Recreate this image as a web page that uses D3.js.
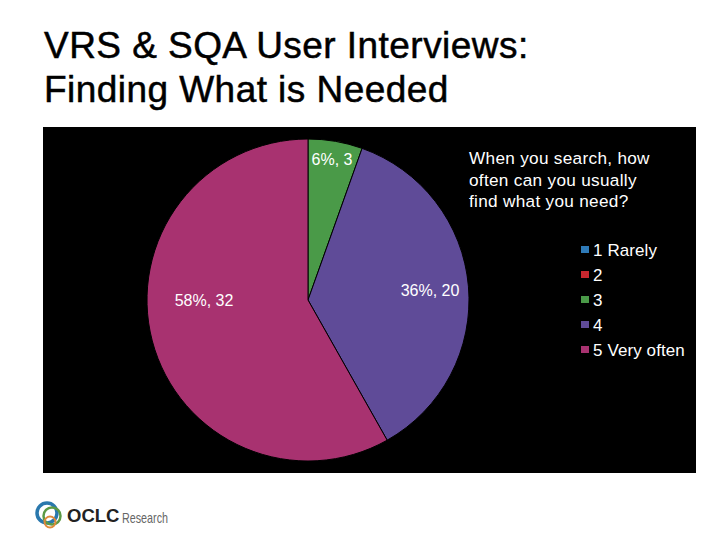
<!DOCTYPE html>
<html><head><meta charset="utf-8">
<script src="https://cdn.jsdelivr.net/npm/d3@7/dist/d3.min.js"></script>
<style>html,body{margin:0;padding:0;background:#fff}svg{display:block}text{font-family:"Liberation Sans",Arial,sans-serif}</style>
</head><body><svg id="c" width="720" height="540"></svg>
<script>
const titleLines = ["VRS & SQA User Interviews:", "Finding What is Needed"];
const categories = ["1 Rarely", "2", "3", "4", "5 Very often"];
const values = [0, 0, 3, 20, 32];
const percents = ["0%", "0%", "6%", "36%", "58%"];
const colors = ["#2e7ab8", "#c8272f", "#4a9a48", "#5f4b98", "#a83270"];
const questionLines = ["When you search, how", "often can you usually", "find what you need?"];

const svg = d3.select("#c");
svg.selectAll("text.title").data(titleLines).join("text").attr("class","title")
  .attr("x",44).attr("y",(d,i)=>58+i*44).attr("font-size",37).attr("letter-spacing",0.45)
  .attr("fill","#000").attr("stroke","#000").attr("stroke-width",0.5).text(d=>d);
svg.append("rect").attr("x",43).attr("y",127).attr("width",653).attr("height",346).attr("fill","#000");

const R = 161;
const g = svg.append("g").attr("transform","translate(308,300)");
const pie = d3.pie().sort(null).value(d=>d)(values);
const arc = d3.arc().innerRadius(0).outerRadius(R);
g.selectAll("path").data(pie.filter(d=>d.value>0)).join("path")
  .attr("d",arc).attr("fill",d=>colors[d.index]).attr("stroke","#000").attr("stroke-width",1);

const labelPos = {2:[332,165],3:[430,296],4:[204,306]};
svg.selectAll("text.lab").data(pie.filter(d=>d.value>0)).join("text").attr("class","lab")
  .attr("x",d=>labelPos[d.index][0]).attr("y",d=>labelPos[d.index][1])
  .attr("text-anchor","middle").attr("font-size",16).attr("fill","#fff")
  .text(d=>`${percents[d.index]}, ${d.value}`);

svg.selectAll("text.q").data(questionLines).join("text").attr("class","q")
  .attr("x",469).attr("y",(d,i)=>164+i*21.7).attr("font-size",17.2).attr("letter-spacing",0.3).attr("fill","#fff").text(d=>d);

const y = d3.scalePoint().domain(categories).range([250,350]);
const leg = svg.selectAll("g.leg").data(categories).join("g").attr("class","leg")
  .attr("transform",d=>`translate(581,${y(d)})`);
leg.append("rect").attr("x",0).attr("y",-4).attr("width",8).attr("height",7).attr("fill",(d,i)=>colors[i]);
leg.append("text").attr("x",12).attr("y",6).attr("font-size",17).attr("letter-spacing",0.1).attr("fill","#fff").text(d=>d);

const logo = svg.append("g");
const rings = [[47,513,10,"#2a78ad",3.5],[52,516,8.5,"#5c9a45",2.5],[50,522,5.5,"#e08a3a",2]];
rings.forEach(r=>logo.append("circle").attr("cx",r[0]).attr("cy",r[1]).attr("r",r[2]).attr("fill","none").attr("stroke",r[3]).attr("stroke-width",r[4]));
logo.append("text").attr("x",67).attr("y",522).attr("font-size",18.5).attr("font-weight","bold").attr("fill","#222").text("OCLC");
logo.append("text").attr("x",122).attr("y",523).attr("font-size",15).attr("fill","#666").attr("textLength",46).attr("lengthAdjust","spacingAndGlyphs").text("Research");
</script></body></html>
